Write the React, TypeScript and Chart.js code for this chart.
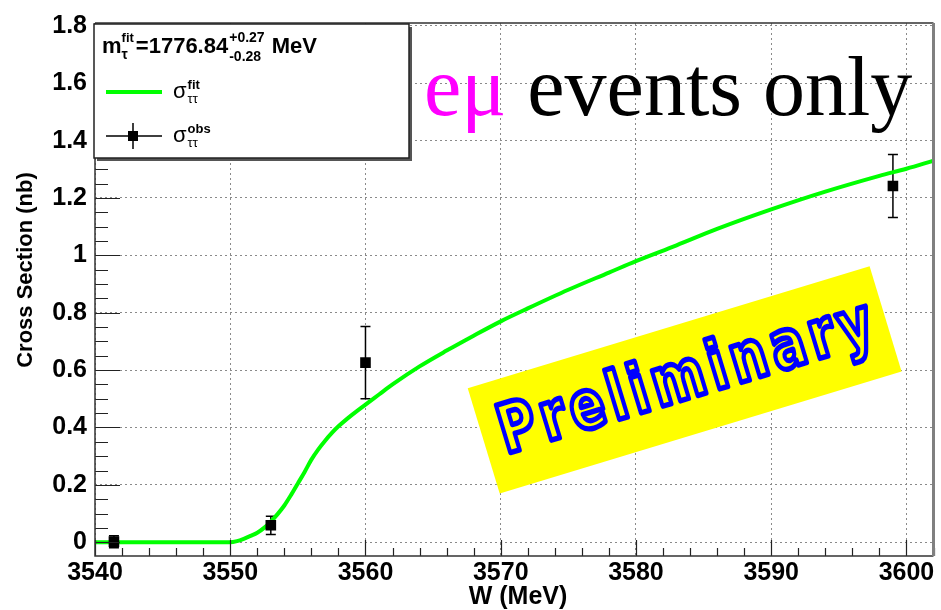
import React, { useEffect, useRef } from "react";
import { Chart, registerables } from "chart.js";

Chart.register(...registerables);

// ---- data ----
const W_FIT = [
  3540, 3545, 3550, 3550.5, 3551, 3551.5, 3552, 3552.5, 3553, 3553.5, 3554, 3554.5,
  3555, 3555.5, 3556, 3556.5, 3557, 3557.5, 3558, 3559, 3560, 3561, 3562, 3564, 3566, 3568,
  3570, 3572, 3575, 3578, 3580, 3583, 3586, 3590, 3594, 3598, 3600, 3602,
];
const SIGMA_FIT = [
  0, 0, 0, 0.004, 0.012, 0.022, 0.033, 0.05, 0.072, 0.098, 0.128, 0.165,
  0.205, 0.245, 0.288, 0.323, 0.353, 0.38, 0.404, 0.444, 0.48, 0.515, 0.55, 0.613, 0.668, 0.72,
  0.77, 0.815, 0.88, 0.94, 0.98, 1.035, 1.092, 1.16, 1.222, 1.277, 1.302, 1.33,
];
const W_OBS = [3541.4, 3553.0, 3560.0, 3599.0];
const SIGMA_OBS = [0.002, 0.059, 0.626, 1.242];
const SIGMA_ERR = [0.021, 0.032, 0.126, 0.11];

const X_MIN = 3540;
const X_MAX = 3602;
const Y_MIN = -0.048;
const Y_MAX = 1.81;
const X_STEP = 10;
const Y_STEP = 0.2;
const X_MINOR_DIV = 5;
const Y_MINOR_DIV = 4;

const MASS_TEXT = "1776.84";
const MASS_UP = "+0.27";
const MASS_DOWN = "-0.28";
const X_TITLE = "W (MeV)";
const Y_TITLE = "Cross Section (nb)";

const SANS = '"Liberation Sans", Arial, sans-serif';
const SERIF = '"Liberation Serif", "Times New Roman", serif';
const bold = (px: number) => `bold ${px}px ${SANS}`;

const rootPlugin = {
  id: "rootStyle",
  beforeDatasetsDraw(chart: any) {
    const { ctx, scales } = chart;
    const x = scales.x;
    const y = scales.y;
    ctx.save();
    ctx.strokeStyle = "#000";
    ctx.lineWidth = 1.5;
    W_OBS.forEach((w, i) => {
      const px = x.getPixelForValue(w);
      const top = y.getPixelForValue(SIGMA_OBS[i] + SIGMA_ERR[i]);
      const bot = y.getPixelForValue(SIGMA_OBS[i] - SIGMA_ERR[i]);
      ctx.beginPath();
      ctx.moveTo(px, top);
      ctx.lineTo(px, bot);
      ctx.moveTo(px - 5, top);
      ctx.lineTo(px + 5, top);
      ctx.moveTo(px - 5, bot);
      ctx.lineTo(px + 5, bot);
      ctx.stroke();
    });
    ctx.restore();
  },
  afterDraw(chart: any) {
    const { ctx, chartArea: ca, scales } = chart;
    const x = scales.x;
    const y = scales.y;
    ctx.save();

    // ---- tick marks inside the frame ----
    ctx.strokeStyle = "#222";
    ctx.lineWidth = 1.2;
    ctx.beginPath();
    const xm = X_STEP / X_MINOR_DIV;
    for (let k = Math.ceil(X_MIN / xm); k * xm <= X_MAX + 1e-9; k++) {
      const v = k * xm;
      const major = Math.abs(v / X_STEP - Math.round(v / X_STEP)) < 1e-6;
      const px = Math.round(x.getPixelForValue(v)) + 0.5;
      ctx.moveTo(px, ca.bottom);
      ctx.lineTo(px, ca.bottom - (major ? 16 : 8));
    }
    const ym = Y_STEP / Y_MINOR_DIV;
    for (let k = Math.ceil(Y_MIN / ym); k * ym <= Y_MAX + 1e-9; k++) {
      const v = k * ym;
      const major = Math.abs(v / Y_STEP - Math.round(v / Y_STEP)) < 1e-6;
      const py = Math.round(y.getPixelForValue(v)) + 0.5;
      ctx.moveTo(ca.left, py);
      ctx.lineTo(ca.left + (major ? 25 : 13), py);
    }
    ctx.stroke();

    // ---- frame ----
    ctx.strokeStyle = "#333";
    ctx.lineWidth = 1.5;
    ctx.beginPath();
    ctx.moveTo(ca.left, ca.top);
    ctx.lineTo(ca.right, ca.top);
    ctx.moveTo(ca.left, ca.top);
    ctx.lineTo(ca.left, ca.bottom);
    ctx.lineTo(ca.right, ca.bottom);
    ctx.stroke();
    ctx.strokeStyle = "#808080";
    ctx.lineWidth = 3;
    ctx.beginPath();
    ctx.moveTo(ca.right, ca.top);
    ctx.lineTo(ca.right, ca.bottom);
    ctx.stroke();

    // ---- legend box ----
    const LX = ca.left - 1;
    const LT = ca.top + 1;
    const LW = 315;
    const LH = 134;
    ctx.fillStyle = "#555";
    ctx.fillRect(LX + 3, LT + 3, LW, LH);
    ctx.fillStyle = "#fff";
    ctx.fillRect(LX, LT, LW, LH);
    ctx.strokeStyle = "#222";
    ctx.lineWidth = 1.5;
    ctx.strokeRect(LX, LT, LW, LH);

    ctx.fillStyle = "#000";
    ctx.textBaseline = "alphabetic";
    ctx.textAlign = "left";
    let cx = LX + 8;
    ctx.font = bold(22);
    ctx.fillText("m", cx, LT + 29);
    cx += ctx.measureText("m").width;
    ctx.font = bold(13);
    ctx.fillText("fit", cx, LT + 18);
    const wf = ctx.measureText("fit").width;
    ctx.font = `bold 14px ${SANS}`;
    ctx.fillText("τ", cx, LT + 35);
    cx += wf + 2;
    ctx.font = bold(22);
    const eqText = "=" + MASS_TEXT;
    ctx.fillText(eqText, cx, LT + 29);
    cx += ctx.measureText(eqText).width + 1;
    ctx.font = bold(14);
    ctx.fillText(MASS_UP, cx, LT + 18);
    ctx.fillText(MASS_DOWN, cx, LT + 37);
    cx += Math.max(ctx.measureText(MASS_UP).width, ctx.measureText(MASS_DOWN).width) + 7;
    ctx.font = bold(22);
    ctx.fillText("MeV", cx, LT + 29);

    // legend row 1: fit line
    ctx.strokeStyle = "#00ff00";
    ctx.lineWidth = 4;
    ctx.beginPath();
    ctx.moveTo(LX + 12, LT + 68);
    ctx.lineTo(LX + 68, LT + 68);
    ctx.stroke();
    // legend row 2: marker with error bar
    ctx.strokeStyle = "#000";
    ctx.lineWidth = 1.5;
    ctx.beginPath();
    ctx.moveTo(LX + 12, LT + 112);
    ctx.lineTo(LX + 68, LT + 112);
    ctx.moveTo(LX + 39, LT + 99);
    ctx.lineTo(LX + 39, LT + 125);
    ctx.stroke();
    ctx.fillStyle = "#000";
    ctx.fillRect(LX + 34, LT + 107, 10, 10);

    const sigmaLabel = (sup: string, base: number) => {
      let sx = LX + 79;
      ctx.font = `22px ${SANS}`;
      ctx.fillText("σ", sx, base);
      sx += ctx.measureText("σ").width + 1;
      ctx.font = bold(13);
      ctx.fillText(sup, sx, base - 9);
      ctx.font = `13px ${SANS}`;
      ctx.fillText("ττ", sx, base + 5);
    };
    sigmaLabel("fit", LT + 74);
    sigmaLabel("obs", LT + 118);

    // ---- "eμ events only" ----
    ctx.font = `84px ${SERIF}`;
    ctx.textAlign = "left";
    ctx.fillStyle = "#ff00ff";
    const tx = 424;
    const ty = 115;
    ctx.fillText("eμ", tx, ty);
    const wem = ctx.measureText("eμ").width;
    ctx.fillStyle = "#000";
    ctx.fillText(" events only", tx + wem, ty);

    // ---- Preliminary stamp ----
    const sx0 = x.getPixelForValue(3583.6);
    const sy0 = y.getPixelForValue(0.566);
    ctx.save();
    ctx.translate(sx0, sy0);
    ctx.rotate((-16.9 * Math.PI) / 180);
    ctx.fillStyle = "#ffff00";
    ctx.fillRect(-210, -55, 420, 110);
    ctx.scale(1, 1.3);
    ctx.font = `bold 52px "DejaVu Sans", ${SANS}`;
    (ctx as any).letterSpacing = "5px";
    ctx.textAlign = "center";
    ctx.textBaseline = "middle";
    ctx.lineJoin = "round";
    ctx.lineWidth = 4.2;
    ctx.strokeStyle = "#0000ff";
    ctx.strokeText("Preliminary", 4, 1);
    ctx.restore();

    // ---- axis titles ----
    ctx.fillStyle = "#000";
    ctx.font = bold(22);
    ctx.textAlign = "center";
    ctx.textBaseline = "middle";
    ctx.save();
    ctx.translate(26, 270);
    ctx.rotate(-Math.PI / 2);
    ctx.fillText(Y_TITLE, 0, 0);
    ctx.restore();
    ctx.font = bold(25);
    ctx.fillText(X_TITLE, 518, 597);

    ctx.restore();
  },
};

export default function App() {
  const ref = useRef<HTMLCanvasElement | null>(null);
  useEffect(() => {
    if (!ref.current) return;
    const chart = new Chart(ref.current, {
      type: "scatter",
      data: {
        datasets: [
          {
            label: "obs",
            order: 0,
            data: W_OBS.map((w, i) => ({ x: w, y: SIGMA_OBS[i] })),
            showLine: false,
            pointStyle: "rect",
            pointRadius: 7.5,
            backgroundColor: "#000",
            borderColor: "#000",
            borderWidth: 0,
          },
          {
            label: "fit",
            order: 1,
            data: W_FIT.map((w, i) => ({ x: w, y: SIGMA_FIT[i] })),
            showLine: true,
            borderColor: "#00ff00",
            borderWidth: 4,
            pointRadius: 0,
            cubicInterpolationMode: "monotone",
            fill: false,
          },
        ],
      },
      options: {
        animation: false,
        responsive: false,
        devicePixelRatio: 1,
        layout: { padding: { top: 17, right: 4, left: 0, bottom: 0 } },
        plugins: { legend: { display: false }, tooltip: { enabled: false } },
        scales: {
          x: {
            type: "linear",
            min: X_MIN,
            max: X_MAX,
            afterFit: (s: any) => {
              s.height = 54;
            },
            ticks: {
              stepSize: X_STEP,
              includeBounds: false,
              autoSkip: false,
              maxRotation: 0,
              padding: 2,
              color: "#000",
              font: { family: SANS, size: 25, weight: "bold" },
              callback: (v: any) => String(v),
            },
            grid: { color: "#8a8a8a", lineWidth: 1, drawTicks: false },
            border: { display: false, dash: [2, 3] },
          },
          y: {
            type: "linear",
            min: Y_MIN,
            max: Y_MAX,
            afterFit: (s: any) => {
              s.width = 95;
            },
            ticks: {
              stepSize: Y_STEP,
              includeBounds: false,
              autoSkip: false,
              padding: 8,
              color: "#000",
              font: { family: SANS, size: 25, weight: "bold" },
              callback: (v: any) => String(+(+v).toFixed(3)),
            },
            grid: { color: "#8a8a8a", lineWidth: 1, drawTicks: false },
            border: { display: false, dash: [2, 3] },
          },
        },
      },
      plugins: [rootPlugin],
    } as any);
    return () => chart.destroy();
  }, []);
  return (
    <div style={{ position: "fixed", left: 0, top: 0, width: 941, height: 610, background: "#fff" }}>
      <canvas ref={ref} width={941} height={610} style={{ display: "block", width: 941, height: 610 }} />
    </div>
  );
}
